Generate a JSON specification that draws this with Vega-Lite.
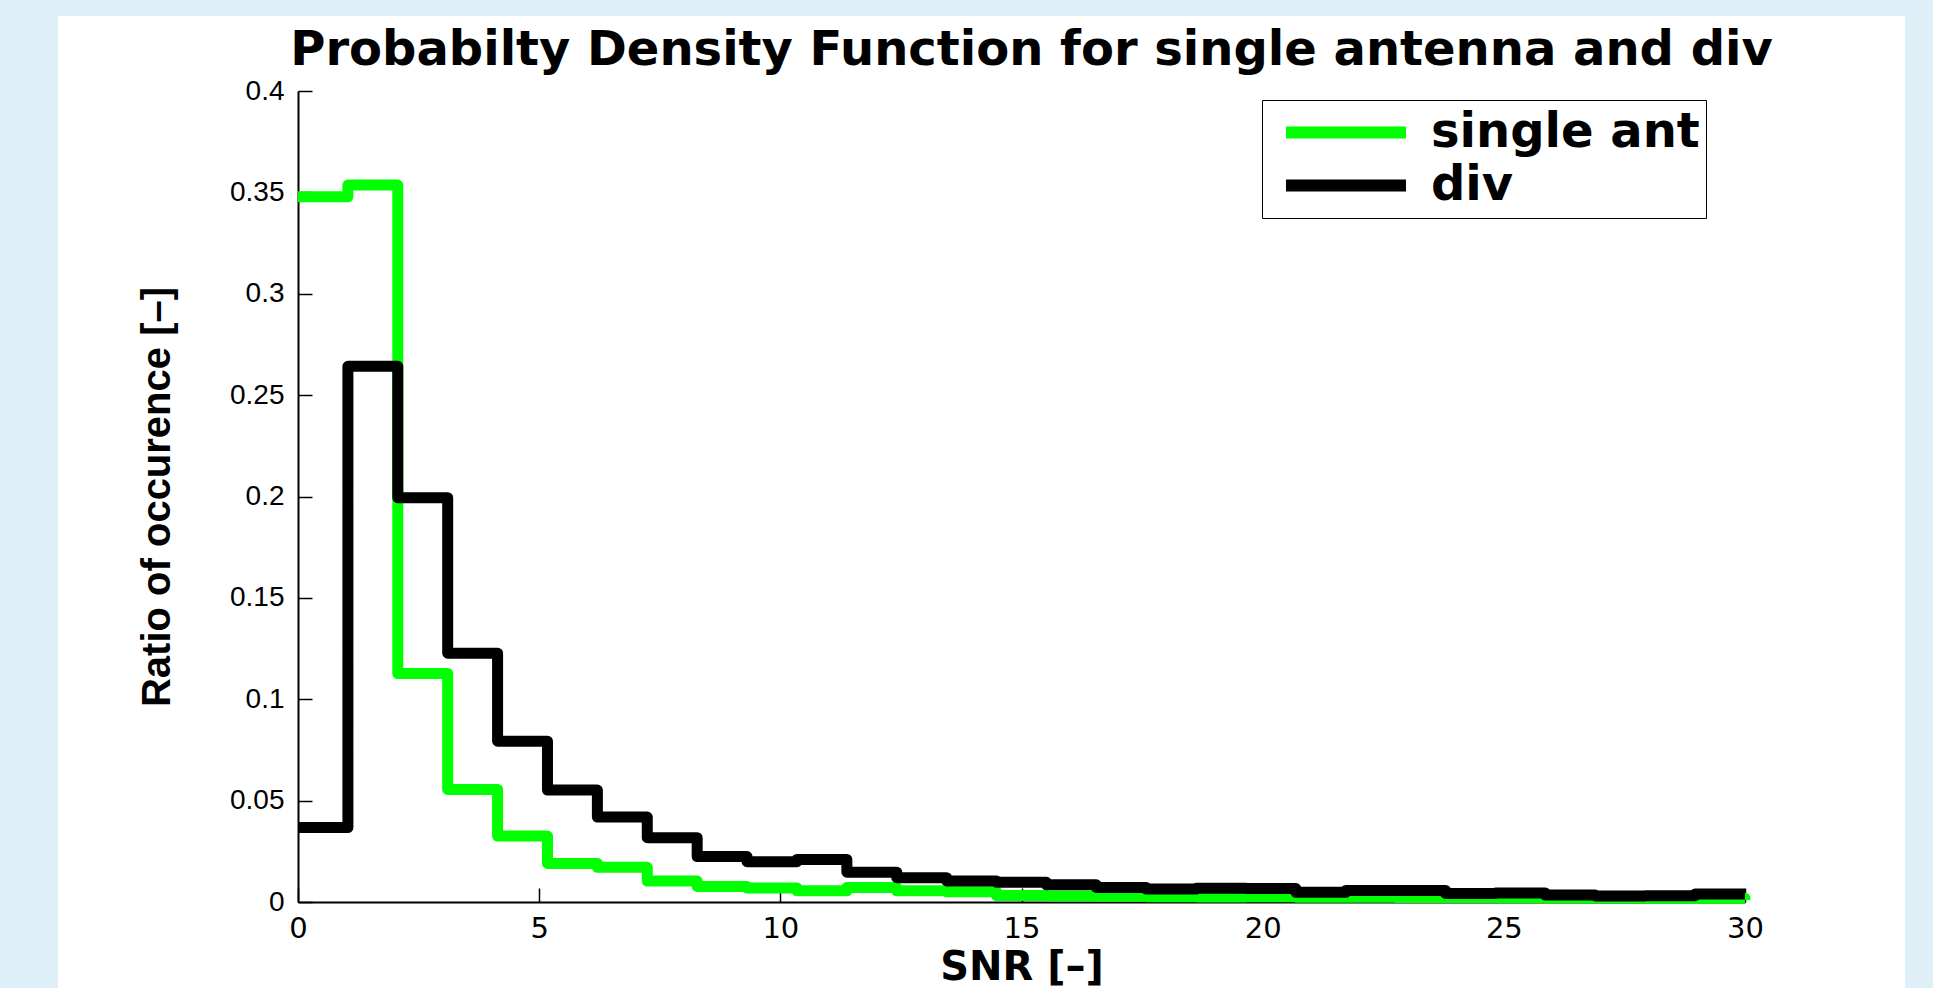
{
  "$schema": "https://vega.github.io/schema/vega-lite/v6.json",
  "width": 1847,
  "height": 972,
  "autosize": {"type": "none"},
  "padding": {"left": 58, "top": 16, "right": 28, "bottom": 0},
  "background": "#dfeff7",
  "title": {
    "text": "Probabilty Density Function for single antenna and div",
    "font": "DejaVu Sans",
    "fontSize": 48,
    "fontWeight": "bold",
    "color": "black",
    "anchor": "middle",
    "frame": "group",
    "offset": -97,
    "baseline": "alphabetic",
    "dx": 50
  },
  "data": {
    "values": [
      {"snr": 0, "ratio": 0.3478, "series": "single ant"},
      {"snr": 1.0345, "ratio": 0.3536, "series": "single ant"},
      {"snr": 2.069, "ratio": 0.1127, "series": "single ant"},
      {"snr": 3.1034, "ratio": 0.0555, "series": "single ant"},
      {"snr": 4.1379, "ratio": 0.0325, "series": "single ant"},
      {"snr": 5.1724, "ratio": 0.019, "series": "single ant"},
      {"snr": 6.2069, "ratio": 0.0171, "series": "single ant"},
      {"snr": 7.2414, "ratio": 0.0103, "series": "single ant"},
      {"snr": 8.2759, "ratio": 0.0077, "series": "single ant"},
      {"snr": 9.3103, "ratio": 0.0069, "series": "single ant"},
      {"snr": 10.3448, "ratio": 0.0055, "series": "single ant"},
      {"snr": 11.3793, "ratio": 0.0071, "series": "single ant"},
      {"snr": 12.4138, "ratio": 0.0055, "series": "single ant"},
      {"snr": 13.4483, "ratio": 0.005, "series": "single ant"},
      {"snr": 14.4828, "ratio": 0.0032, "series": "single ant"},
      {"snr": 15.5172, "ratio": 0.003, "series": "single ant"},
      {"snr": 16.5517, "ratio": 0.0028, "series": "single ant"},
      {"snr": 17.5862, "ratio": 0.0026, "series": "single ant"},
      {"snr": 18.6207, "ratio": 0.0025, "series": "single ant"},
      {"snr": 19.6552, "ratio": 0.0026, "series": "single ant"},
      {"snr": 20.6897, "ratio": 0.0024, "series": "single ant"},
      {"snr": 21.7241, "ratio": 0.0023, "series": "single ant"},
      {"snr": 22.7586, "ratio": 0.0022, "series": "single ant"},
      {"snr": 23.7931, "ratio": 0.0022, "series": "single ant"},
      {"snr": 24.8276, "ratio": 0.0021, "series": "single ant"},
      {"snr": 25.8621, "ratio": 0.002, "series": "single ant"},
      {"snr": 26.8966, "ratio": 0.002, "series": "single ant"},
      {"snr": 27.931, "ratio": 0.0019, "series": "single ant"},
      {"snr": 28.9655, "ratio": 0.0019, "series": "single ant"},
      {"snr": 30, "ratio": 0.001, "series": "single ant"},
      {"snr": 0, "ratio": 0.0367, "series": "div"},
      {"snr": 1.0345, "ratio": 0.2642, "series": "div"},
      {"snr": 2.069, "ratio": 0.1994, "series": "div"},
      {"snr": 3.1034, "ratio": 0.1227, "series": "div"},
      {"snr": 4.1379, "ratio": 0.0793, "series": "div"},
      {"snr": 5.1724, "ratio": 0.0552, "series": "div"},
      {"snr": 6.2069, "ratio": 0.0419, "series": "div"},
      {"snr": 7.2414, "ratio": 0.0317, "series": "div"},
      {"snr": 8.2759, "ratio": 0.0224, "series": "div"},
      {"snr": 9.3103, "ratio": 0.0199, "series": "div"},
      {"snr": 10.3448, "ratio": 0.021, "series": "div"},
      {"snr": 11.3793, "ratio": 0.0147, "series": "div"},
      {"snr": 12.4138, "ratio": 0.012, "series": "div"},
      {"snr": 13.4483, "ratio": 0.0104, "series": "div"},
      {"snr": 14.4828, "ratio": 0.0097, "series": "div"},
      {"snr": 15.5172, "ratio": 0.0085, "series": "div"},
      {"snr": 16.5517, "ratio": 0.0072, "series": "div"},
      {"snr": 17.5862, "ratio": 0.0064, "series": "div"},
      {"snr": 18.6207, "ratio": 0.0068, "series": "div"},
      {"snr": 19.6552, "ratio": 0.0066, "series": "div"},
      {"snr": 20.6897, "ratio": 0.0048, "series": "div"},
      {"snr": 21.7241, "ratio": 0.0057, "series": "div"},
      {"snr": 22.7586, "ratio": 0.0057, "series": "div"},
      {"snr": 23.7931, "ratio": 0.0042, "series": "div"},
      {"snr": 24.8276, "ratio": 0.0044, "series": "div"},
      {"snr": 25.8621, "ratio": 0.0034, "series": "div"},
      {"snr": 26.8966, "ratio": 0.003, "series": "div"},
      {"snr": 27.931, "ratio": 0.0031, "series": "div"},
      {"snr": 28.9655, "ratio": 0.0039, "series": "div"},
      {"snr": 30, "ratio": 0.0039, "series": "div"}
    ]
  },
  "encoding": {
    "x": {
      "field": "snr",
      "type": "quantitative",
      "scale": {"domain": [0, 30], "range": [240, 1687], "nice": false, "zero": false},
      "axis": {
        "title": "SNR [–]",
        "titleFont": "DejaVu Sans",
        "titleFontSize": 40,
        "titleFontWeight": "bold",
        "titleColor": "black",
        "titlePadding": 4,
        "offset": -86,
        "values": [0, 5, 10, 15, 20, 25, 30],
        "format": "~g",
        "labelFont": "DejaVu Sans",
        "labelFontSize": 29,
        "labelColor": "black",
        "labelPadding": 26,
        "labelFlush": false,
        "labelOverlap": false,
        "tickSize": -14,
        "tickColor": "black",
        "tickWidth": 1.5,
        "domainColor": "black",
        "domainWidth": 2,
        "grid": false
      }
    },
    "y": {
      "field": "ratio",
      "type": "quantitative",
      "scale": {"domain": [0, 0.4], "range": [886, 75], "nice": false, "zero": false},
      "axis": {
        "title": "Ratio of occurence [–]",
        "titleFont": "Liberation Sans",
        "titleFontSize": 40,
        "titleFontWeight": "bold",
        "titleColor": "black",
        "titlePadding": 52,
        "offset": -240,
        "values": [0, 0.05, 0.1, 0.15, 0.2, 0.25, 0.3, 0.35, 0.4],
        "format": "~g",
        "labelFont": "Liberation Sans",
        "labelFontSize": 28,
        "labelColor": "black",
        "labelPadding": 28,
        "labelFlush": false,
        "labelOverlap": false,
        "tickSize": -14,
        "tickColor": "black",
        "tickWidth": 1.5,
        "domainColor": "black",
        "domainWidth": 2,
        "grid": false
      }
    },
    "color": {
      "field": "series",
      "type": "nominal",
      "scale": {"domain": ["single ant", "div"], "range": ["#00ff00", "#000000"]},
      "legend": {
        "title": null,
        "orient": "none",
        "legendX": 1204,
        "legendY": 84,
        "symbolType": "stroke",
        "symbolSize": 14400,
        "symbolStrokeWidth": 12,
        "clipHeight": 53,
        "rowPadding": 0,
        "padding": 6,
        "symbolOffset": 12,
        "labelOffset": 19,
        "labelLimit": 600,
        "labelFont": "DejaVu Sans",
        "labelFontSize": 48,
        "labelFontWeight": "bold",
        "labelColor": "black",
        "strokeColor": "black",
        "fillColor": "white",
        "cornerRadius": 0
      }
    }
  },
  "layer": [
    {
      "transform": [{"filter": "datum.series === 'single ant'"}],
      "mark": {"type": "line", "interpolate": "step-after", "strokeWidth": 11, "strokeJoin": "round", "strokeCap": "butt"}
    },
    {
      "transform": [{"filter": "datum.series === 'div'"}],
      "mark": {"type": "line", "interpolate": "step-after", "strokeWidth": 11, "strokeJoin": "round", "strokeCap": "butt"}
    }
  ],
  "config": {"view": {"stroke": null, "fill": "white"}}
}
